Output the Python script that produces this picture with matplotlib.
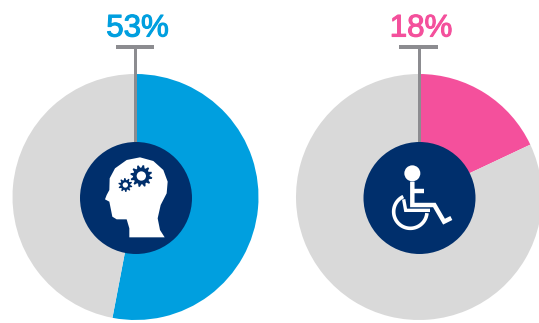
import numpy as np
import matplotlib
matplotlib.use("Agg")
import matplotlib.pyplot as plt
import matplotlib.patheffects as pe
from matplotlib.patches import Circle, Polygon, Rectangle

labels = ["53%", "18%"]
shares = [53, 18]
colors = ["#009fdf", "#f4509c"]
REST = "#d9d9d9"
NAVY = "#002f6c"
STEM = "#8c8c90"

W, H = 539, 323
fig = plt.figure(figsize=(W / 100, H / 100), dpi=100)
ax = fig.add_axes([0, 0, 1, 1])

centers = [(135.5, 197), (419, 197)]
R = 123
R_BADGE = 56

for (cx, cy), share, col, lab in zip(centers, shares, colors, labels):
    ax.pie([share, 100 - share], colors=[col, REST], startangle=90,
           counterclock=False, radius=R, center=(cx, H - cy), frame=True,
           wedgeprops={"linewidth": 0})
    ax.add_patch(Rectangle((cx - 1.5, H - 145), 3, 97, color=STEM, lw=0, zorder=3))
    ax.add_patch(Rectangle((cx - 20, H - 49), 38.5, 4, color=STEM, lw=0, zorder=3))
    ax.add_patch(Circle((cx + 0.5, H - 198), R_BADGE, color=NAVY, lw=0, zorder=4))
    ax.text(cx + 2, H - 36.5, lab, color=col, ha="center", va="baseline",
            fontsize=22.5, family="Liberation Sans",
            path_effects=[pe.withStroke(linewidth=0.8, foreground=col)], zorder=5)


def head_xy(x, y):
    return 100 + x / 3, H - (150 + y / 3)


def chair_xy(x, y):
    return 385 + x / 3, H - (160 + y / 3)


# head silhouette
head = [(88, 262), (88, 235), (80, 208), (50, 208), (37, 200), (33, 180), (28, 155), (15, 148),
        (20, 135), (28, 120), (29, 85), (45, 55), (80, 30), (120, 22), (160, 33), (190, 60),
        (203, 95), (200, 130), (182, 165), (173, 205), (180, 240), (194, 262)]
ax.add_patch(Polygon([head_xy(*p) for p in head], closed=True, color="white", lw=0, zorder=5))


def gear(cx, cy, r_out, r_in, r_hole, teeth):
    t = np.linspace(0, 2 * np.pi, teeth * 4, endpoint=False)
    rad = np.tile([r_in, r_out, r_out, r_in], teeth)
    pts = [head_xy(cx + r * np.cos(a), cy + r * np.sin(a)) for a, r in zip(t, rad)]
    ax.add_patch(Polygon(pts, closed=True, color=NAVY, lw=0, zorder=6))
    ax.add_patch(Circle(head_xy(cx, cy), r_hole / 3, color="white", lw=0, zorder=7))


gear(124, 78, 33, 25, 14, 12)
gear(76, 105, 21, 15, 8, 10)


# wheelchair symbol
def stroke(points, lw):
    xs, ys = zip(*[chair_xy(*p) for p in points])
    ax.plot(xs, ys, color="white", lw=lw, solid_capstyle="butt", solid_joinstyle="miter", zorder=5)


ax.add_patch(Circle(chair_xy(82, 40), 8, color="white", lw=0, zorder=5))
stroke([(82, 65), (82, 135), (148, 135), (177, 185), (199, 174)], 3.2)
stroke([(82, 92), (116, 92)], 3.2)
stroke([(56, 118), (62, 151), (135, 151)], 2.4)
ang = np.radians(np.linspace(5, 245, 60))
stroke([(76 + 50 * np.cos(a), 155 + 50 * np.sin(a)) for a in ang], 2.6)

ax.set_xlim(0, W)
ax.set_ylim(0, H)
ax.set_aspect("equal")
ax.axis("off")
fig.savefig("out.png", dpi=100)
